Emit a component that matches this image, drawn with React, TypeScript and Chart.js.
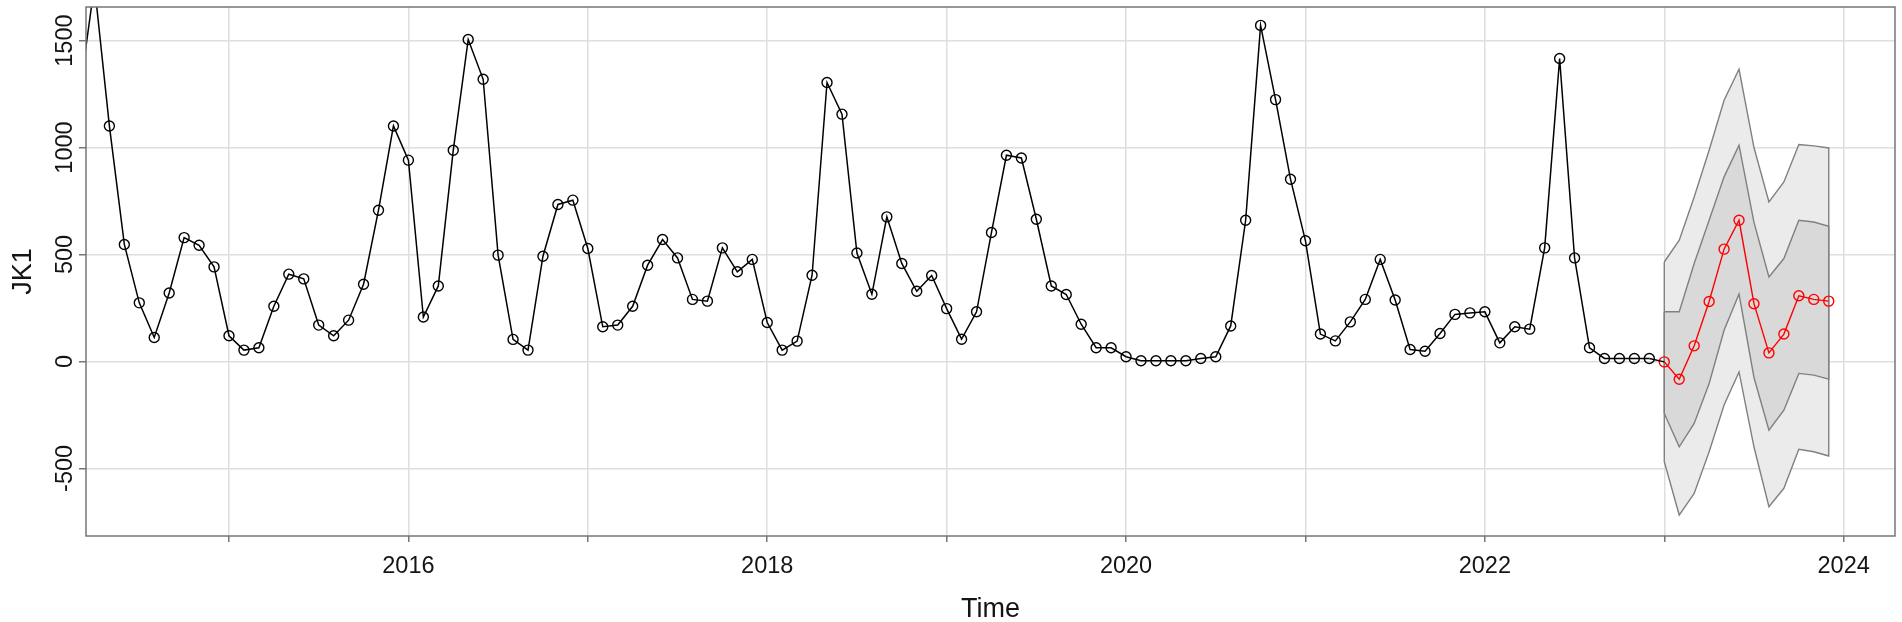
import React, { useEffect, useRef } from 'react';
import { Chart, registerables } from 'chart.js';

Chart.register(...registerables);

// ---- data -------------------------------------------------------------
// Observed monthly series JK1, first value = March 2014
const obsStartYear = 2014;
const obsStartMonth = 3;
const obs2014 = [1250, 1760, 1101, 547, 274, 112, 320, 579, 543, 442];
const obs2015 = [120, 53, 64, 258, 408, 386, 170, 120, 193, 361, 707, 1101];
const obs2016 = [941, 208, 353, 987, 1505, 1319, 497, 103, 53, 492, 734, 754];
const obs2017 = [528, 162, 170, 258, 450, 570, 484, 290, 282, 531, 419, 477];
const obs2018 = [182, 53, 95, 403, 1304, 1156, 507, 314, 676, 458, 328, 402];
const obs2019 = [247, 104, 232, 603, 964, 951, 665, 353, 313, 174, 64, 64];
const obs2020 = [22, 3, 3, 3, 3, 14, 22, 166, 660, 1571, 1224, 852];
const obs2021 = [564, 128, 96, 185, 290, 477, 287, 56, 48, 131, 220, 227];
const obs2022 = [232, 87, 162, 151, 531, 1416, 484, 64, 14, 14, 14, 14];
const observed = [
  ...obs2014, ...obs2015, ...obs2016, ...obs2017, ...obs2018,
  ...obs2019, ...obs2020, ...obs2021, ...obs2022,
];

// Forecast for 2023 (Jan..Dec)
const fcStartYear = 2023;
const fcMean = [-2, -83, 73, 280, 525, 660, 270, 40, 128, 307, 290, 282];
const fcLo80 = [-243, -399, -290, -103, 146, 315, -75, -321, -228, -56, -64, -83];
const fcHi80 = [232, 232, 458, 660, 863, 1011, 650, 395, 481, 660, 652, 632];
const fcLo95 = [-469, -718, -617, -422, -204, -49, -400, -679, -593, -411, -422, -442];
const fcHi95 = [465, 567, 769, 987, 1221, 1366, 1000, 746, 839, 1014, 1008, 998];

// Axes
const xTicks = [2015, 2016, 2017, 2018, 2019, 2020, 2021, 2022, 2023, 2024];
const xTickLabels = ['', '2016', '', '2018', '', '2020', '', '2022', '', '2024'];
const yTicks = [-500, 0, 500, 1000, 1500];
const yTickLabels = ['-500', '0', '500', '1000', '1500'];
const xMin = 2014.203;
const xMax = 2024.286;
const yMin = -816;
const yMax = 1657;
const xTitle = 'Time';
const yTitle = 'JK1';

// ---- helpers ----------------------------------------------------------
const W = 1902;
const H = 622;
const FONT = '"Liberation Sans", Arial, sans-serif';
const TEXT = '#141414';
const FRAME = '#767676';
const GRID = '#dedede';

const obsPoints = observed.map((v, i) => ({
  x: obsStartYear + (obsStartMonth - 1 + i) / 12,
  y: v,
}));
const fcPoints = fcMean.map((v, i) => ({ x: fcStartYear + i / 12, y: v }));
const connector = [obsPoints[obsPoints.length - 1], fcPoints[0]];

function bandPolygon(lo: number[], hi: number[]) {
  const up = hi.map((v, i) => ({ x: fcStartYear + i / 12, y: v }));
  const down = lo.map((v, i) => ({ x: fcStartYear + i / 12, y: v })).reverse();
  return [...up, ...down, up[0]];
}

const textPlugin = {
  id: 'rtext',
  afterDraw(chart: any) {
    const { ctx, chartArea } = chart;
    const xs = chart.scales.x;
    const ys = chart.scales.y;
    ctx.save();
    // frame
    ctx.strokeStyle = FRAME;
    ctx.lineWidth = 1.5;
    ctx.strokeRect(chartArea.left, chartArea.top, chartArea.right - chartArea.left, chartArea.bottom - chartArea.top);

    ctx.fillStyle = TEXT;
    // x tick labels
    ctx.font = `23.5px ${FONT}`;
    ctx.textAlign = 'center';
    ctx.textBaseline = 'alphabetic';
    xTicks.forEach((v, i) => {
      const lab = xTickLabels[i];
      if (!lab) return;
      ctx.fillText(lab, xs.getPixelForValue(v), 573);
    });
    // y tick labels (rotated)
    yTicks.forEach((v, i) => {
      ctx.save();
      ctx.translate(72, ys.getPixelForValue(v));
      ctx.rotate(-Math.PI / 2);
      ctx.textAlign = 'center';
      ctx.fillText(yTickLabels[i], 0, 0);
      ctx.restore();
    });
    // axis titles
    ctx.font = `27px ${FONT}`;
    ctx.textAlign = 'center';
    ctx.fillText(xTitle, (chartArea.left + chartArea.right) / 2, 616.5);
    ctx.save();
    ctx.translate(30.5, (chartArea.top + chartArea.bottom) / 2);
    ctx.rotate(-Math.PI / 2);
    ctx.fillText(yTitle, 0, 0);
    ctx.restore();
    ctx.restore();
  },
};

export default function App() {
  const ref = useRef<HTMLCanvasElement | null>(null);

  useEffect(() => {
    if (!ref.current) return;
    const chart = new Chart(ref.current, {
      type: 'line',
      data: {
        datasets: [
          {
            label: 'observed',
            data: obsPoints,
            borderColor: '#000000',
            borderWidth: 1.5,
            pointRadius: 5,
            pointBorderWidth: 1.4,
            pointBorderColor: '#000000',
            pointBackgroundColor: 'rgba(0,0,0,0)',
            fill: false,
            tension: 0,
          },
          {
            label: 'link',
            data: connector,
            borderColor: '#000000',
            borderWidth: 1.5,
            pointRadius: 0,
            fill: false,
          },
          {
            label: 'forecast',
            data: fcPoints,
            borderColor: '#ff0000',
            borderWidth: 1.4,
            pointRadius: 5,
            pointBorderWidth: 1.4,
            pointBorderColor: '#ff0000',
            pointBackgroundColor: 'rgba(0,0,0,0)',
            fill: false,
          },
          {
            label: '80%',
            data: bandPolygon(fcLo80, fcHi80),
            borderColor: '#808080',
            borderWidth: 1.4,
            backgroundColor: '#d9d9d9',
            pointRadius: 0,
            fill: 'shape',
          },
          {
            label: '95%',
            data: bandPolygon(fcLo95, fcHi95),
            borderColor: '#808080',
            borderWidth: 1.4,
            backgroundColor: '#ebebeb',
            pointRadius: 0,
            fill: 'shape',
          },
        ],
      },
      options: {
        animation: false,
        responsive: false,
        devicePixelRatio: 1,
        events: [],
        layout: { autoPadding: false, padding: { left: 0, top: 7, right: 7, bottom: 0 } },
        plugins: { legend: { display: false }, tooltip: { enabled: false }, title: { display: false } },
        scales: {
          x: {
            type: 'linear',
            min: xMin,
            max: xMax,
            border: { display: false },
            grid: {
              color: GRID,
              lineWidth: 1.5,
              drawTicks: true,
              tickLength: 6,
              tickColor: FRAME,
              tickWidth: 1.5,
            },
            ticks: { display: false },
            afterBuildTicks: (s: any) => {
              s.ticks = xTicks.map((v) => ({ value: v }));
            },
            afterFit: (s: any) => {
              s.height = 86;
            },
          },
          y: {
            type: 'linear',
            min: yMin,
            max: yMax,
            border: { display: false },
            grid: {
              color: GRID,
              lineWidth: 1.5,
              drawTicks: true,
              tickLength: 7,
              tickColor: FRAME,
              tickWidth: 1.5,
            },
            ticks: { display: false },
            afterBuildTicks: (s: any) => {
              s.ticks = yTicks.map((v) => ({ value: v }));
            },
            afterFit: (s: any) => {
              s.width = 86;
            },
          },
        },
      },
      plugins: [textPlugin],
    } as any);
    return () => chart.destroy();
  }, []);

  return (
    <div style={{ position: 'fixed', left: 0, top: 0, width: W, height: H, background: '#ffffff' }}>
      <canvas ref={ref} width={W} height={H} style={{ width: W, height: H, display: 'block' }} />
    </div>
  );
}
